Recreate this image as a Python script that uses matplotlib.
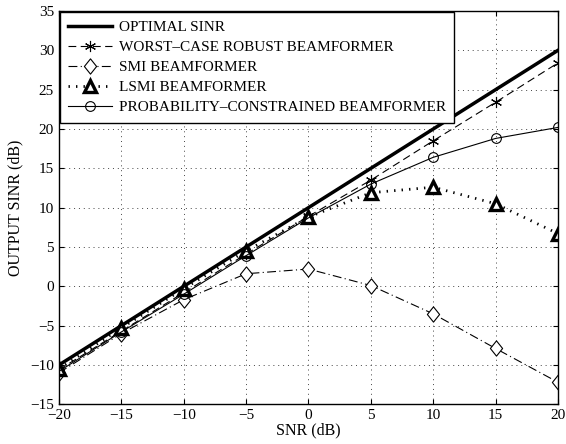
import matplotlib
matplotlib.use("Agg")
import matplotlib.pyplot as plt
from matplotlib.path import Path
import numpy as np

plt.rcParams['font.family'] = ['Liberation Serif', 'DejaVu Serif']

snr = [-20, -15, -10, -5, 0, 5, 10, 15, 20]
optimal = [-10, -5, 0, 5, 10, 15, 20, 25, 30]
worst_case = [-10.6, -5.7, -0.8, 4.1, 8.9, 13.5, 18.5, 23.4, 28.4]
smi = [-11.0, -6.0, -1.7, 1.6, 2.2, 0.1, -3.5, -7.9, -12.2]
lsmi = [-10.5, -5.3, -0.3, 4.5, 8.8, 11.9, 12.6, 10.5, 6.7]
prob = [-10.8, -5.8, -1.0, 3.9, 8.7, 13.0, 16.4, 18.8, 20.2]

labels = ['OPTIMAL SINR', 'WORST\u2013CASE ROBUST BEAMFORMER', 'SMI BEAMFORMER',
          'LSMI BEAMFORMER', 'PROBABILITY\u2013CONSTRAINED BEAMFORMER']
xticks = [-20, -15, -10, -5, 0, 5, 10, 15, 20]
yticks = [-15, -10, -5, 0, 5, 10, 15, 20, 25, 30, 35]

diamond = Path([(0, 1), (0.8, 0), (0, -1), (-0.8, 0), (0, 1)],
               [Path.MOVETO, Path.LINETO, Path.LINETO, Path.LINETO, Path.CLOSEPOLY])

fig = plt.figure(figsize=(5.66, 4.44), dpi=100)
ax = fig.add_axes([0.1042, 0.0894, 0.8816, 0.8858])

ax.plot(snr, optimal, '-', color='black', lw=2.5, label=labels[0])
ax.plot(snr, worst_case, '--', color='black', lw=0.8, dashes=(7, 4),
        marker=(6, 2, 0), ms=8, mew=0.8, label=labels[1])
ax.plot(snr, smi, '-.', color='black', lw=0.8, dashes=(8, 3, 1, 3),
        marker=diamond, ms=11, mfc='white', mec='black', mew=0.8, label=labels[2])
ax.plot(snr, lsmi, ':', color='black', lw=2.0, dashes=(0.5, 2.2),
        marker='^', ms=9, mfc='white', mec='black', mew=2.4, label=labels[3])
ax.plot(snr, prob, '-', color='black', lw=0.8,
        marker='o', ms=7, mfc='none', mec='black', mew=0.8, label=labels[4])

ax.set_xlim(-20, 20)
ax.set_ylim(-15, 35)
ax.set_xticks(xticks)
ax.set_yticks(yticks)
ax.set_xticklabels([str(t).replace('-', '\u2212') for t in xticks])
ax.set_yticklabels([str(t).replace('-', '\u2212') for t in yticks])
ax.tick_params(direction='in', top=True, right=True, labelsize=11, length=3.6, width=0.8, pad=3.5)
ax.grid(True, color='#444444', linestyle=(0, (1, 4)), lw=0.7)
for s in ax.spines.values():
    s.set_linewidth(1.0)

ax.set_xlabel('SNR (dB)', fontsize=11.5, labelpad=0)
ax.set_ylabel('OUTPUT SINR (dB)', fontsize=11.5, labelpad=5)

leg = ax.legend(loc='upper left', fontsize=11, frameon=True, fancybox=False,
                edgecolor='black', framealpha=1, borderaxespad=0.05,
                handlelength=2.9, handletextpad=0.4, labelspacing=0.42,
                borderpad=0.55, numpoints=1)
leg.get_frame().set_linewidth(1.0)

fig.savefig('out.png', dpi=100)
